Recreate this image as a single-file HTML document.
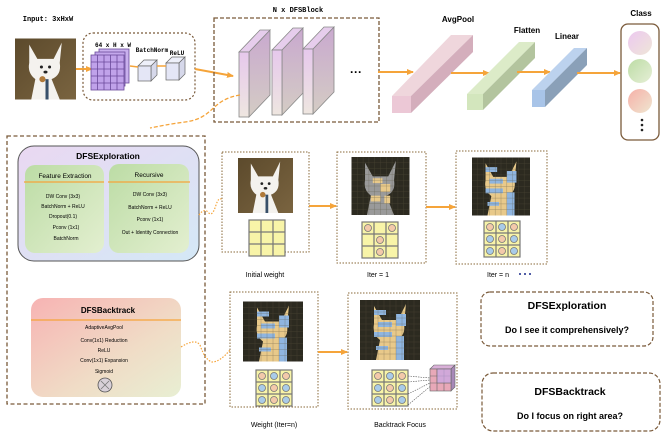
<!DOCTYPE html>
<html><head><meta charset="utf-8"><style>
html,body{margin:0;padding:0;background:#fff}
svg{display:block}
text{font-family:"Liberation Sans",sans-serif}
.m{font-family:"Liberation Mono",monospace;font-weight:bold}
</style></head><body>
<svg width="667" height="437" viewBox="0 0 667 437" xmlns="http://www.w3.org/2000/svg">
<defs>
<marker id="ar" markerWidth="8" markerHeight="8" refX="6" refY="3" orient="auto" markerUnits="userSpaceOnUse"><path d="M0,0 L7,3 L0,6 z" fill="#f5a43a"/></marker>
<linearGradient id="dogbg" x1="0" y1="0" x2="1" y2="1"><stop offset="0" stop-color="#5c4a2c"/><stop offset="1" stop-color="#7a6440"/></linearGradient>
<linearGradient id="expl" x1="0" y1="0" x2="1" y2="1"><stop offset="0" stop-color="#ead8f2"/><stop offset="1" stop-color="#d4e8f6"/></linearGradient>
<linearGradient id="grn" x1="0" y1="0" x2="1" y2="1"><stop offset="0" stop-color="#bcdca5"/><stop offset="1" stop-color="#e3efd0"/></linearGradient>
<linearGradient id="back" x1="0" y1="0" x2="1" y2="1"><stop offset="0" stop-color="#f7b3b3"/><stop offset="0.6" stop-color="#f0dcc6"/><stop offset="1" stop-color="#e8efd3"/></linearGradient>
<linearGradient id="slab" x1="0" y1="0" x2="0" y2="1"><stop offset="0" stop-color="#e6c8ec"/><stop offset="1" stop-color="#eee6e0"/></linearGradient>
<linearGradient id="slabs" x1="0" y1="0" x2="0" y2="1"><stop offset="0" stop-color="#c9a9cf"/><stop offset="1" stop-color="#d4ccc4"/></linearGradient>
<linearGradient id="c1" x1="0" y1="0" x2="1" y2="1"><stop offset="0" stop-color="#ecc8f0"/><stop offset="1" stop-color="#efe6d8"/></linearGradient>
<linearGradient id="c2" x1="0" y1="0" x2="1" y2="1"><stop offset="0" stop-color="#bcdca5"/><stop offset="1" stop-color="#e6efd6"/></linearGradient>
<linearGradient id="c3" x1="0" y1="0" x2="1" y2="1"><stop offset="0" stop-color="#f6b0a8"/><stop offset="1" stop-color="#efe6d0"/></linearGradient>
<symbol id="dog" viewBox="0 0 60 60">
<rect width="60" height="60" fill="url(#dogbg)"/>
<path d="M14,6 L22,20 L38,20 L46,4 L44,24 Q46,36 36,40 L44,60 L16,60 L20,40 Q12,34 14,24 z" fill="#f4f2ee"/>
<circle cx="26" cy="28" r="1.5" fill="#222"/><circle cx="34" cy="28" r="1.5" fill="#222"/><ellipse cx="30" cy="33" rx="2" ry="1.4" fill="#222"/>
<rect x="30" y="40" width="3" height="20" fill="#38506a"/><circle cx="27" cy="40" r="3" fill="#b07a3a"/>
</symbol>
<symbol id="dogm" viewBox="0 0 60 60">
<rect width="60" height="60" fill="#2c2a20"/>
<path d="M14,6 L22,20 L38,20 L46,4 L44,24 Q46,36 36,40 L44,60 L16,60 L20,40 Q12,34 14,24 z" fill="#e8c98a"/>
<rect x="14" y="10" width="12" height="5" fill="#8fb5e0"/><rect x="36" y="14" width="10" height="12" fill="#8fb5e0"/>
<rect x="18" y="22" width="14" height="5" fill="#8fb5e0"/><rect x="14" y="32" width="18" height="5" fill="#8fb5e0"/>
<rect x="36" y="36" width="8" height="24" fill="#8fb5e0"/><rect x="16" y="46" width="12" height="4" fill="#8fb5e0"/>
<path d="M0,6H60M0,12H60M0,18H60M0,24H60M0,30H60M0,36H60M0,42H60M0,48H60M0,54H60M6,0V60M12,0V60M18,0V60M24,0V60M30,0V60M36,0V60M42,0V60M48,0V60M54,0V60" stroke="#5a5440" stroke-width="0.4" opacity="0.6"/>
</symbol>
<symbol id="dog1" viewBox="0 0 60 60">
<rect width="60" height="60" fill="#2c2a20"/>
<path d="M14,6 L22,20 L38,20 L46,4 L44,24 Q46,36 36,40 L44,60 L16,60 L20,40 Q12,34 14,24 z" fill="#9a9a9a"/>
<rect x="22" y="22" width="10" height="5" fill="#e8c98a"/><rect x="30" y="28" width="10" height="8" fill="#e8c98a"/><rect x="20" y="40" width="10" height="6" fill="#e8c98a"/><rect x="34" y="40" width="6" height="8" fill="#e8c98a"/>
<path d="M0,6H60M0,12H60M0,18H60M0,24H60M0,30H60M0,36H60M0,42H60M0,48H60M0,54H60M6,0V60M12,0V60M18,0V60M24,0V60M30,0V60M36,0V60M42,0V60M48,0V60M54,0V60" stroke="#5a5440" stroke-width="0.4" opacity="0.6"/>
</symbol>
<g id="grid"><rect width="36" height="36" fill="#f8f4a8" stroke="#777" stroke-width="1.2"/><path d="M12,0V36M24,0V36M0,12H36M0,24H36" stroke="#777" stroke-width="1.2"/></g>
<circle id="o" r="3.5" fill="#f3c9aa" stroke="#777" stroke-width="0.8"/>
<circle id="b" r="3.5" fill="#a9cbe8" stroke="#777" stroke-width="0.8"/>
<g id="gridn"><use href="#grid"/>
<use href="#o" x="6" y="6"/><use href="#b" x="18" y="6"/><use href="#o" x="30" y="6"/>
<use href="#b" x="6" y="18"/><use href="#o" x="18" y="18"/><use href="#b" x="30" y="18"/>
<use href="#b" x="6" y="30"/><use href="#o" x="18" y="30"/><use href="#b" x="30" y="30"/></g>
</defs>

<!-- top row -->
<text x="48" y="21" font-size="7" class="m" text-anchor="middle">Input: 3xHxW</text>
<use href="#dog" x="15" y="37" width="61" height="64"/>
<line x1="76" y1="69" x2="92" y2="69" stroke="#f5a43a" stroke-width="2" marker-end="url(#ar)"/>
<rect x="83" y="33" width="112" height="67" rx="10" fill="none" stroke="#7a5a3a" stroke-width="1.2" stroke-dasharray="2,2"/>
<text x="113" y="47" font-size="6" class="m" text-anchor="middle">64 x H x W</text>
<g stroke="#6a4a9a" stroke-width="0.8">
<rect x="99" y="49" width="30" height="34" fill="#c9b0ee"/>
<rect x="95" y="52" width="30" height="34" fill="#c4a8ec"/>
<rect x="91" y="55" width="33" height="35" fill="#c0a2ea"/>
<path d="M97.5,55V90M104,55V90M110.5,55V90M117,55V90M91,62H124M91,69H124M91,76H124M91,83H124" fill="none"/>
</g>
<text x="152" y="52" font-size="6" class="m" text-anchor="middle">BatchNorm</text>
<text x="177" y="55" font-size="6" class="m" text-anchor="middle">ReLU</text>
<g stroke="#666" stroke-width="0.7">
<path d="M138,66 L144,60 L157,60 L151,66z" fill="#eef0fa"/><path d="M151,66 L157,60 L157,75 L151,81z" fill="#d6d8ea"/><rect x="138" y="66" width="13" height="15" fill="#e4e6f6"/>
<path d="M166,63 L172,57 L185,57 L179,63z" fill="#eef0fa"/><path d="M179,63 L185,57 L185,74 L179,80z" fill="#d6d8ea"/><rect x="166" y="63" width="13" height="17" fill="#e4e6f6"/>
</g>
<line x1="130" y1="66" x2="138" y2="67" stroke="#f5a43a" stroke-width="1.5"/>
<line x1="157" y1="66" x2="166" y2="66" stroke="#f5a43a" stroke-width="1.5"/>
<line x1="195" y1="69" x2="233" y2="76" stroke="#f5a43a" stroke-width="2" marker-end="url(#ar)"/>

<text x="298" y="12" font-size="7" class="m" text-anchor="middle">N x DFSBlock</text>
<rect x="214" y="18" width="165" height="104" fill="none" stroke="#7a5a3a" stroke-width="1.3" stroke-dasharray="4,2"/>
<g stroke="#888" stroke-width="0.8">
<g><path d="M249,52 L270,30 L270,95 L249,117z" fill="url(#slabs)"/><path d="M239,52 L260,30 L270,30 L249,52z" fill="#e6cdec"/><rect x="239" y="52" width="10" height="65" fill="url(#slab)"/></g>
<g><path d="M282,50 L303,28 L303,93 L282,115z" fill="url(#slabs)"/><path d="M272,50 L293,28 L303,28 L282,50z" fill="#e6cdec"/><rect x="272" y="50" width="10" height="65" fill="url(#slab)"/></g>
<g><path d="M313,49 L334,27 L334,92 L313,114z" fill="url(#slabs)"/><path d="M303,49 L324,27 L334,27 L313,49z" fill="#e6cdec"/><rect x="303" y="49" width="10" height="65" fill="url(#slab)"/></g>
</g>
<text x="356" y="76" font-size="12" text-anchor="middle" font-weight="bold">···</text>
<line x1="378" y1="72" x2="413" y2="72" stroke="#f5a43a" stroke-width="2" marker-end="url(#ar)"/>

<text x="458" y="22" font-size="8" font-weight="bold" text-anchor="middle">AvgPool</text>
<path d="M392,96 L451,35 L473,35 L411,96z" fill="#efd6dc"/><path d="M411,96 L473,35 L473,52 L411,113z" fill="#d4aebc"/><rect x="392" y="96" width="19" height="17" fill="#ecc8d6"/>
<line x1="451" y1="73" x2="489" y2="73" stroke="#f5a43a" stroke-width="2" marker-end="url(#ar)"/>
<text x="527" y="33" font-size="8" font-weight="bold" text-anchor="middle">Flatten</text>
<path d="M467,94 L519,42 L535,42 L483,94z" fill="#dcebc8"/><path d="M483,94 L535,42 L535,58 L483,110z" fill="#b3c49e"/><rect x="467" y="94" width="16" height="16" fill="#d3e6bd"/>
<line x1="517" y1="72" x2="550" y2="72" stroke="#f5a43a" stroke-width="2" marker-end="url(#ar)"/>
<text x="567" y="39" font-size="8" font-weight="bold" text-anchor="middle">Linear</text>
<path d="M532,90 L574,48 L587,48 L545,90z" fill="#bcd2ee"/><path d="M545,90 L587,48 L587,65 L545,107z" fill="#8aa0b8"/><rect x="532" y="90" width="13" height="17" fill="#a8c4e8"/>
<line x1="577" y1="73" x2="620" y2="73" stroke="#f5a43a" stroke-width="2" marker-end="url(#ar)"/>
<text x="641" y="16" font-size="8" font-weight="bold" text-anchor="middle">Class</text>
<rect x="621" y="24" width="38" height="116" rx="7" fill="#fff" stroke="#7a5a3a" stroke-width="1.3"/>
<circle cx="640" cy="43" r="12" fill="url(#c1)"/><circle cx="640" cy="71" r="12" fill="url(#c2)"/><circle cx="640" cy="101" r="12" fill="url(#c3)"/>
<circle cx="642" cy="120" r="1.3" fill="#222"/><circle cx="642" cy="125" r="1.3" fill="#222"/><circle cx="642" cy="130" r="1.3" fill="#222"/>

<path d="M240,95 C210,100 215,118 185,122 C170,124 160,126 150,128" fill="none" stroke="#f5a43a" stroke-width="1.3" stroke-dasharray="4,2"/>

<!-- left box -->
<rect x="7" y="136" width="198" height="268" fill="none" stroke="#7a5a3a" stroke-width="1.3" stroke-dasharray="4,2.5"/>
<rect x="18" y="146" width="181" height="115" rx="16" fill="url(#expl)" stroke="#555" stroke-width="1"/>
<text x="108" y="159" font-size="8.5" font-weight="bold" text-anchor="middle">DFSExploration</text>
<rect x="25" y="165" width="79" height="88" rx="10" fill="url(#grn)"/>
<rect x="109" y="164" width="80" height="89" rx="10" fill="url(#grn)"/>
<line x1="24" y1="182" x2="104" y2="182" stroke="#f5a43a" stroke-width="1.3"/>
<line x1="108" y1="182" x2="190" y2="182" stroke="#f5a43a" stroke-width="1.3"/>
<text x="65" y="178" font-size="6.5" text-anchor="middle">Feature Extraction</text>
<text x="149" y="177" font-size="6.5" text-anchor="middle">Recursive</text>
<g font-size="5" text-anchor="middle">
<text x="63" y="198">DW Conv (3x3)</text><text x="63" y="208">BatchNorm + ReLU</text><text x="63" y="218">Dropout(0.1)</text><text x="66" y="229">Pconv (1x1)</text><text x="66" y="240">BatchNorm</text>
<text x="150" y="196">DW Conv (3x3)</text><text x="150" y="209">BatchNorm + ReLU</text><text x="150" y="221">Pconv (1x1)</text><text x="150" y="234">Out + Identity Connection</text>
</g>
<rect x="31" y="298" width="150" height="99" rx="12" fill="url(#back)"/>
<text x="108" y="313" font-size="8" font-weight="bold" text-anchor="middle">DFSBacktrack</text>
<line x1="31" y1="320" x2="181" y2="320" stroke="#f5a43a" stroke-width="1.3"/>
<g font-size="5" text-anchor="middle">
<text x="104" y="329">AdaptiveAvgPool</text><text x="104" y="342">Conv(1x1) Reduction</text><text x="104" y="352">ReLU</text><text x="104" y="362">Conv(1x1) Expansion</text><text x="104" y="373">Sigmoid</text>
</g>
<circle cx="105" cy="385" r="7" fill="#d8d0d8" stroke="#555" stroke-width="0.8"/>
<path d="M101,381 L109,389 M109,381 L101,389" stroke="#777" stroke-width="0.8"/>

<path d="M199,215 Q204,208 208,212 Q212,218 216,205 Q219,196 222,200" fill="none" stroke="#f5a43a" stroke-width="1.2" stroke-dasharray="1.5,1.5"/>
<path d="M181,347 Q195,338 200,345 Q205,360 212,362 Q220,362 230,350" fill="none" stroke="#f5a43a" stroke-width="1.2" stroke-dasharray="1.5,1.5"/>

<!-- panels -->
<g fill="none" stroke="#8a6a3a" stroke-width="1" stroke-dasharray="1.5,1.5">
<rect x="222" y="152" width="87" height="100"/><rect x="337" y="152" width="89" height="111"/><rect x="456" y="151" width="91" height="113"/>
<rect x="230" y="292" width="88" height="115"/><rect x="348" y="293" width="109" height="116"/>
</g>
<use href="#dog" x="238" y="157" width="55" height="57"/>
<use href="#grid" x="249" y="220"/>
<use href="#dog1" x="350" y="157" width="61" height="58"/>
<g transform="translate(362,222)"><use href="#grid"/><use href="#o" x="6" y="6"/><use href="#o" x="30" y="6"/><use href="#o" x="18" y="18"/><use href="#o" x="18" y="30"/></g>
<use href="#dogm" x="472" y="157" width="58" height="59"/>
<use href="#gridn" x="484" y="221"/>
<use href="#dogm" x="243" y="301" width="60" height="61"/>
<use href="#gridn" x="256" y="370"/>
<use href="#dogm" x="360" y="298" width="60" height="64"/>
<use href="#gridn" x="372" y="370"/>
<g stroke="#555" stroke-width="0.6" stroke-dasharray="1.5,1"><line x1="408" y1="376" x2="430" y2="378"/><line x1="408" y1="382" x2="430" y2="380"/><line x1="408" y1="394" x2="432" y2="382"/><line x1="408" y1="405" x2="433" y2="384"/></g>
<g stroke="#666" stroke-width="0.6">
<path d="M430,369 L434,365 L455,365 L451,369z" fill="#d9b0d8"/><path d="M451,369 L455,365 L455,387 L451,391z" fill="#a888b8"/>
<rect x="430" y="369" width="21" height="22" fill="#e8a8b8"/><path d="M437,369V391M444,369V391M430,376H451M430,383H451" fill="none"/>
<rect x="437" y="369" width="14" height="14" fill="#c8a8e8" opacity="0.7"/>
</g>
<g stroke="#f5a43a" stroke-width="2"><line x1="309" y1="206" x2="336" y2="206" marker-end="url(#ar)"/><line x1="426" y1="207" x2="455" y2="207" marker-end="url(#ar)"/><line x1="318" y1="352" x2="347" y2="352" marker-end="url(#ar)"/></g>
<g font-size="7" text-anchor="middle">
<text x="265" y="277">Initial weight</text><text x="378" y="277">Iter = 1</text><text x="498" y="277">Iter = n</text>
<text x="274" y="427">Weight (Iter=n)</text><text x="400" y="427">Backtrack Focus</text></g>
<g fill="#1a2a8a"><circle cx="520" cy="274" r="1"/><circle cx="525" cy="274" r="1"/><circle cx="530" cy="274" r="1"/></g>

<rect x="481" y="292" width="172" height="54" rx="9" fill="none" stroke="#7a5a3a" stroke-width="1.2" stroke-dasharray="4,2"/>
<text x="567" y="309" font-size="10.5" font-weight="bold" text-anchor="middle">DFSExploration</text>
<text x="567" y="333" font-size="9" font-weight="bold" text-anchor="middle">Do I see it comprehensively?</text>
<rect x="482" y="373" width="178" height="58" rx="11" fill="none" stroke="#7a5a3a" stroke-width="1.2" stroke-dasharray="4,2"/>
<text x="570" y="395" font-size="10.5" font-weight="bold" text-anchor="middle">DFSBacktrack</text>
<text x="570" y="419" font-size="9" font-weight="bold" text-anchor="middle">Do I focus on right area?</text>
</svg>
</body></html>
